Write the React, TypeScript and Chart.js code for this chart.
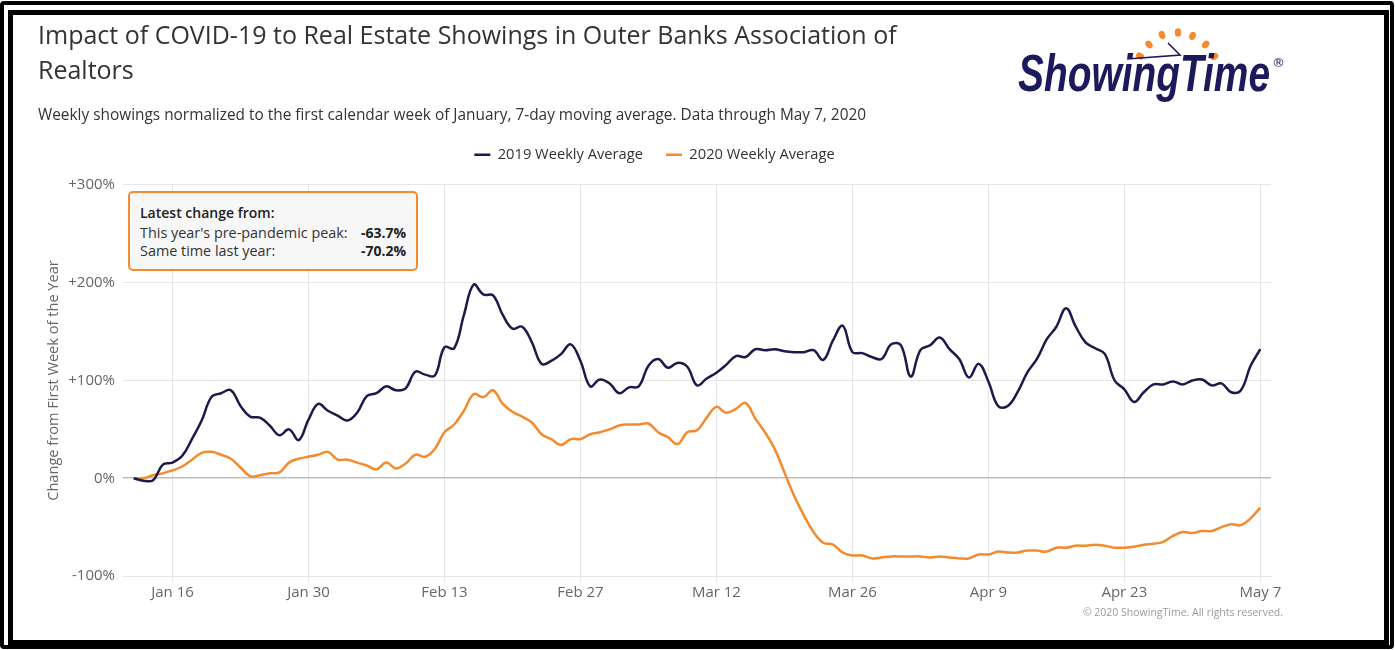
import React, { useEffect, useRef } from 'react';
import { Chart, registerables } from 'chart.js';

Chart.register(...registerables);

const titleLines = ['Impact of COVID-19 to Real Estate Showings in Outer Banks Association of', 'Realtors'];
const subtitleText =
  'Weekly showings normalized to the first calendar week of January, 7-day moving average. Data through May 7, 2020';
const seriesNames = ['2019 Weekly Average', '2020 Weekly Average'];
const axisTitle = 'Change from First Week of the Year';
const creditText = '\u00A9 2020 ShowingTime. All rights reserved.';

// x = day index, day 0 = Jan 12
const tickDays = [4, 18, 32, 46, 60, 74, 88, 102, 116];
const tickLabels = ['Jan 16', 'Jan 30', 'Feb 13', 'Feb 27', 'Mar 12', 'Mar 26', 'Apr 9', 'Apr 23', 'May 7'];
const yTicks = [-100, 0, 100, 200, 300];

const values2019 = [
  0, -2.5, -2, 14, 16, 23, 40, 59, 83, 87,
  90, 74, 63, 62, 54, 44, 50, 39, 60, 76,
  69, 64, 59, 67, 84, 87, 94, 90, 92, 109,
  106, 105, 134, 133, 167, 198, 188, 187, 167, 153,
  155, 139, 117, 120, 127, 137, 120, 94, 101, 97,
  87, 93, 94, 115, 122, 113, 118, 114, 95, 102,
  108, 116, 125, 124, 132, 131, 132, 130, 129, 129,
  131, 121, 141, 156, 129, 128, 124, 122, 137, 136,
  104, 131, 136, 144, 132, 122, 103, 117, 99, 74,
  74, 88, 108, 122, 142, 155, 174, 155, 139, 133,
  127, 100, 91, 78, 88, 96, 96, 99, 96, 100,
  101, 95, 97, 88, 90, 115, 132,
];

const values2020 = [
  0, 0, 3, 5, 8, 12, 19, 26, 27, 24,
  20, 11, 2, 3, 5, 6, 16, 20, 22, 24,
  27, 19, 19, 16, 13, 9, 16, 10, 15, 24,
  22, 30, 47, 55, 69, 86, 83, 90, 76, 68,
  63, 57, 45, 40, 34, 40, 40, 45, 47, 50,
  54, 55, 55, 56, 47, 42, 35, 47, 49, 62,
  73, 67, 71, 77, 61, 47, 30, 6, -18, -38,
  -55, -66, -68, -76, -79, -79, -82, -81, -80, -80,
  -80, -80, -81, -80, -81, -82, -82, -78, -78, -75,
  -76, -76, -74, -74, -75, -71, -71, -69, -69, -68,
  -69, -71, -71, -70, -68, -67, -65, -59, -55, -56,
  -54, -54, -50, -47, -48, -41, -30,
];

const boxTitle = 'Latest change from:';
const boxLabels = ["This year's pre-pandemic peak:", 'Same time last year:'];
const boxValues = ['-63.7%', '-70.2%'];

const NAVY = '#1b1a4b';
const ORANGE = '#f38b2e';
const LOGO_NAVY = '#1d1a5c';
const FONT = "'Open Sans', sans-serif";

const logoDots = [
  [130, 36, 30],
  [139, 24.5, 50],
  [152, 15, 70],
  [168, 12.5, 90],
  [182.5, 16, 110],
  [195.7, 24.5, 130],
  [204.3, 36.5, 150],
];

export default function App() {
  const ref = useRef<HTMLCanvasElement>(null);

  useEffect(() => {
    const canvas = ref.current;
    if (!canvas) return;

    const legendSpacer = {
      id: 'legendSpacer',
      beforeLayout(chart: any) {
        const lg = chart.legend;
        if (lg && !lg.__patched) {
          const orig = lg.fit;
          lg.fit = function () {
            orig.call(this);
            this.height += 12.8;
          };
          lg.__patched = true;
        }
      },
    };

    const chart = new Chart(canvas, {
      type: 'line',
      data: {
        datasets: [
          {
            label: seriesNames[0],
            data: values2019.map((y, x) => ({ x, y })),
            borderColor: NAVY,
            backgroundColor: NAVY,
            borderWidth: 2.5,
            pointRadius: 0,
            tension: 0.4,
            fill: false,
          },
          {
            label: seriesNames[1],
            data: values2020.map((y, x) => ({ x, y })),
            borderColor: ORANGE,
            backgroundColor: ORANGE,
            borderWidth: 2.5,
            pointRadius: 0,
            tension: 0.4,
            fill: false,
          },
        ],
      },
      options: {
        responsive: false,
        animation: false,
        devicePixelRatio: 1,
        events: [],
        layout: { padding: { top: 0, left: 38, right: 124, bottom: 44 } },
        plugins: {
          title: {
            display: true,
            text: titleLines,
            align: 'start',
            color: '#333333',
            font: { family: FONT, size: 25, weight: 'normal', lineHeight: 1.4 },
            padding: { top: 19.4, bottom: 9.6 },
          },
          subtitle: {
            display: true,
            text: subtitleText,
            align: 'start',
            color: '#333333',
            font: { family: FONT, size: 15.4, weight: 'normal', lineHeight: 1.2 },
            padding: { top: 7, bottom: 0 },
          },
          legend: {
            display: true,
            position: 'top',
            align: 'center',
            labels: {
              usePointStyle: true,
              pointStyle: 'line',
              pointStyleWidth: 16,
              padding: 23,
              color: '#333333',
              font: { family: FONT, size: 14.7 },
            },
          },
          tooltip: { enabled: false },
        },
        scales: {
          x: {
            type: 'linear',
            min: -1.1,
            max: 117.1,
            afterBuildTicks: (s: any) => {
              s.ticks = tickDays.map((v) => ({ value: v }));
            },
            afterFit: (s: any) => {
              s.height = 30;
            },
            ticks: {
              autoSkip: false,
              maxRotation: 0,
              padding: 2,
              color: '#666666',
              font: { family: FONT, size: 15 },
              callback: (v: any) => {
                const i = tickDays.indexOf(Number(v));
                return i >= 0 ? tickLabels[i] : '';
              },
            },
            grid: { color: '#e6e6e6', tickLength: 6, lineWidth: 1 },
            border: { color: '#e6e6e6' },
          },
          y: {
            min: -100,
            max: 300,
            afterBuildTicks: (s: any) => {
              s.ticks = yTicks.map((v) => ({ value: v }));
            },
            afterFit: (s: any) => {
              s.width = 85;
            },
            ticks: {
              padding: 8,
              color: '#666666',
              font: { family: FONT, size: 15 },
              callback: (v: any) => (Number(v) > 0 ? `+${v}%` : `${v}%`),
            },
            grid: {
              drawTicks: false,
              color: (ctx: any) => (ctx.tick && ctx.tick.value === 0 ? '#bdbdbd' : '#e6e6e6'),
              lineWidth: (ctx: any) => (ctx.tick && ctx.tick.value === 0 ? 1.5 : 1),
            },
            border: { display: false },
            title: {
              display: true,
              text: axisTitle,
              color: '#666666',
              font: { family: FONT, size: 14.6 },
              padding: { top: 7.3, bottom: 0 },
            },
          },
        },
      } as any,
      plugins: [legendSpacer as any],
    });

    return () => chart.destroy();
  }, []);

  return (
    <div
      style={{
        position: 'fixed',
        left: 0,
        top: 0,
        width: 1395,
        height: 650,
        background: '#ffffff',
        overflow: 'hidden',
        fontFamily: FONT,
      }}
    >
      <div
        style={{
          position: 'absolute',
          left: 0,
          top: 1,
          width: 1394,
          height: 648,
          boxSizing: 'border-box',
          border: '4px solid #000',
          borderRadius: 4,
        }}
      />
      <div
        style={{
          position: 'absolute',
          left: 8,
          top: 10,
          width: 1381,
          height: 635,
          boxSizing: 'border-box',
          border: '5px solid #000',
        }}
      />
      <canvas ref={ref} width={1395} height={650} style={{ position: 'absolute', left: 0, top: 0 }} />

      {/* annotation box */}
      <div
        style={{
          position: 'absolute',
          left: 128,
          top: 191,
          width: 290,
          height: 80,
          boxSizing: 'border-box',
          border: `2px solid ${ORANGE}`,
          borderRadius: 5,
          background: '#f7f7f7',
          fontSize: 14.4,
          lineHeight: '18px',
          color: '#333',
        }}
      >
        <div style={{ position: 'absolute', left: 10, top: 10.7, fontWeight: 600, color: '#222', fontSize: 14 }}>
          {boxTitle}
        </div>
        {boxLabels.map((lab, i) => (
          <React.Fragment key={lab}>
            <div style={{ position: 'absolute', left: 10, top: i === 0 ? 31.3 : 49 }}>{lab}</div>
            <div style={{ position: 'absolute', right: 10, top: i === 0 ? 31.3 : 49, fontWeight: 700, color: '#222', fontSize: 14 }}>
              {boxValues[i]}
            </div>
          </React.Fragment>
        ))}
      </div>

      {/* logo */}
      <svg
        width={290}
        height={90}
        style={{ position: 'absolute', left: 1010, top: 20 }}
        viewBox="0 0 290 90"
      >
        {logoDots.map(([cx, cy, rot], i) => (
          <ellipse key={i} cx={cx} cy={cy} rx={4.2} ry={3.2} fill={ORANGE} transform={`rotate(${rot} ${cx} ${cy})`} />
        ))}
        <polyline points="158,23 170,35 117,39" fill="none" stroke={LOGO_NAVY} strokeWidth={1.6} strokeLinejoin="miter" />
        <text
          x={8}
          y={71}
          fontFamily="'Liberation Sans', Arial, sans-serif"
          fontWeight="bold"
          fontStyle="italic"
          fontSize={52}
          fill={LOGO_NAVY}
          textLength={252}
          lengthAdjust="spacingAndGlyphs"
        >
          ShowingTime
        </text>
        <text x={262} y={47} fontFamily="'DejaVu Sans', sans-serif" fontSize={13} fill={LOGO_NAVY}>
          {'\u00AE'}
        </text>
      </svg>

      {/* credits */}
      <div
        style={{
          position: 'absolute',
          right: 112,
          top: 605,
          fontSize: 10.5,
          lineHeight: '14px',
          color: '#999999',
          whiteSpace: 'nowrap',
        }}
      >
        {creditText}
      </div>
    </div>
  );
}
